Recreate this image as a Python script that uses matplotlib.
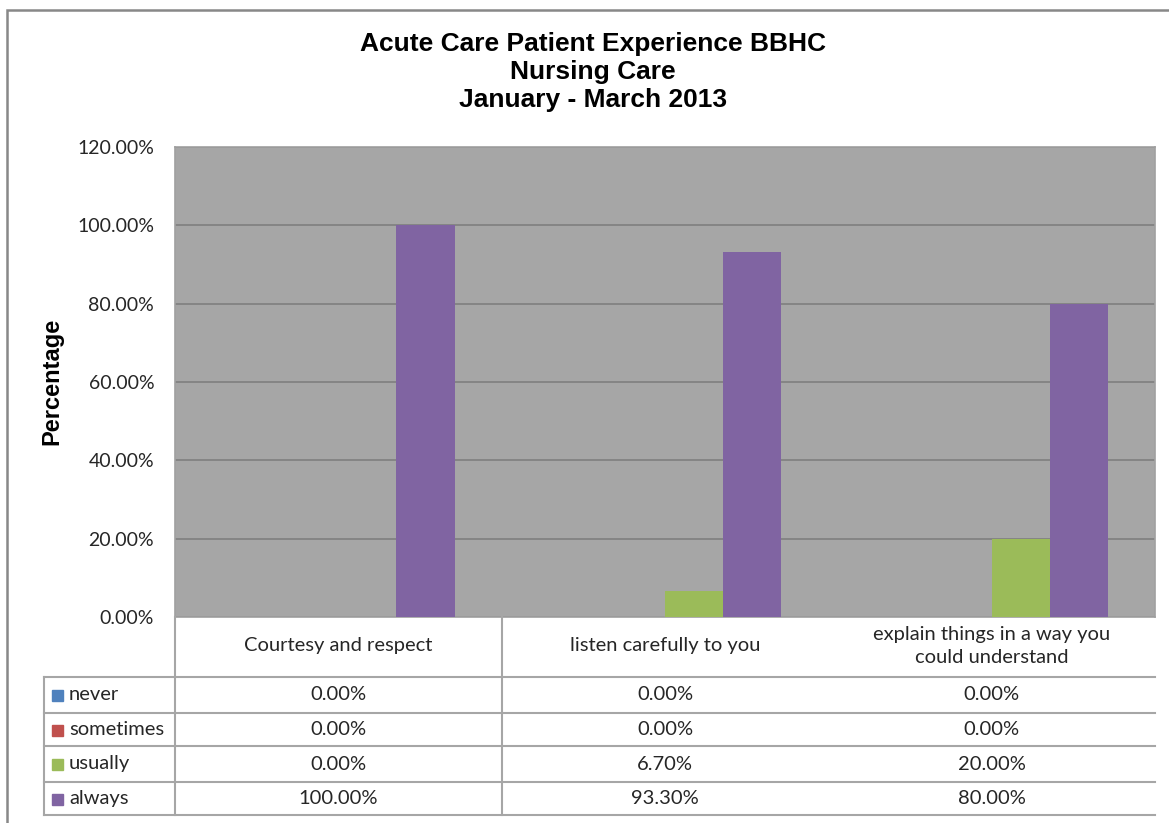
import numpy as np
import matplotlib
matplotlib.use("Agg")
import matplotlib.pyplot as plt
from matplotlib.transforms import blended_transform_factory
from matplotlib.patches import Rectangle

categories = ["Courtesy and respect", "listen carefully to you",
              "explain things in a way you\ncould understand"]
series = ["never", "sometimes", "usually", "always"]
never = [0.0, 0.0, 0.0]
sometimes = [0.0, 0.0, 0.0]
usually = [0.0, 6.7, 20.0]
always = [100.0, 93.3, 80.0]
colors = ["#4F81BD", "#C0504D", "#9BBB59", "#8064A2"]
yticks = [0, 20, 40, 60, 80, 100, 120]

values = [never, sometimes, usually, always]

W, H = 1169, 823
fig = plt.figure(figsize=(W / 100, H / 100), dpi=100)

def fx(px):
    return px / W

def fy(py):
    return 1 - py / H

# plot area in pixel terms
left, right, top, bottom = 175, 1155, 147, 617
ax = fig.add_axes([fx(left), fy(bottom), fx(right) - fx(left), fy(top) - fy(bottom)])
ax.set_facecolor("#A6A6A6")

x = np.arange(len(categories))
bw = 0.178
for i, (name, vals) in enumerate(zip(series, values)):
    ax.bar(x + (i - 1.5) * bw, vals, bw, color=colors[i], zorder=3, label=name)

ax.set_xlim(-0.5, len(categories) - 0.5)
ax.set_ylim(0, 120)
ax.set_yticks(yticks)
ax.set_yticklabels([f"{t:.2f}%" for t in yticks], fontsize=14, family="Lato",
                   color="#262626")
ax.tick_params(axis="y", length=0, pad=15)
ax.set_xticks([])
ax.grid(axis="y", color="#7F7F7F", linewidth=1.2, zorder=1)
for s in ax.spines.values():
    s.set_color("#A0A0A0")
    s.set_linewidth(1.2)

fig.text(fx(52), fy(381), "Percentage", rotation=90, ha="center", va="center",
         fontsize=17, fontweight="bold", family="Liberation Sans")

fig.text(fx(593), fy(72), "Acute Care Patient Experience BBHC\nNursing Care\nJanuary - March 2013",
         ha="center", va="center", fontsize=19, fontweight="bold",
         family="Liberation Sans", linespacing=1.2)

# outer chart border
fig.patches.append(Rectangle((fx(7), fy(H + 20)), fx(W + 20), fy(10) - fy(H + 20),
                             transform=fig.transFigure, fill=False,
                             edgecolor="#888888", linewidth=1.8))

# data table below the plot
tr = blended_transform_factory(ax.transData, fig.transFigure)
lc = "#A6A6A6"
row_lines = [677, 713, 746, 782, 815]
for py in row_lines:
    fig.add_artist(plt.Line2D([fx(44), fx(right)], [fy(py), fy(py)],
                              transform=fig.transFigure, color=lc, linewidth=1.5))
fig.add_artist(plt.Line2D([fx(44), fx(44)], [fy(677), fy(815)],
                          transform=fig.transFigure, color=lc, linewidth=1.5))
for b in [-0.5, 0.5]:
    fig.add_artist(plt.Line2D([b, b], [fy(bottom), fy(815)], transform=tr,
                              color=lc, linewidth=1.5))

for xi, cat in zip(x, categories):
    fig.text(xi, fy(646), cat, transform=tr, ha="center", va="center",
             fontsize=14.5, family="Lato", color="#262626", linespacing=1.45)

row_centers = [(a + b) / 2 for a, b in zip(row_lines[:-1], row_lines[1:])]
for name, vals, c, py in zip(series, values, colors, row_centers):
    fig.patches.append(Rectangle((fx(52), fy(py + 6)), fx(11), fy(py - 5) - fy(py + 6),
                                 transform=fig.transFigure, color=c))
    fig.text(fx(69), fy(py), name, ha="left", va="center", fontsize=14.5,
             family="Lato", color="#262626")
    for xi, v in zip(x, vals):
        fig.text(xi, fy(py), f"{v:.2f}%", transform=tr, ha="center", va="center",
                 fontsize=14.5, family="Lato", color="#262626")

fig.savefig("out.png", dpi=100)
